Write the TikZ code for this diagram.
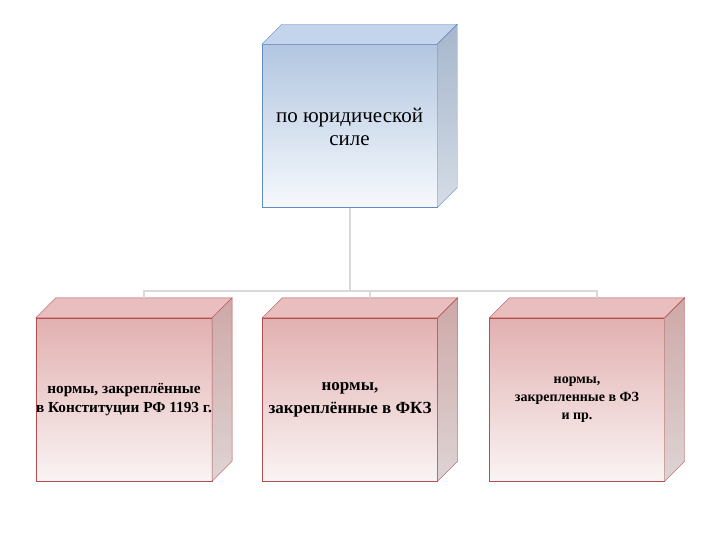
\documentclass[tikz,border=0pt]{standalone}
\usepackage{fontspec}
\setmainfont{Liberation Serif}
\usetikzlibrary{positioning}

\definecolor{blueedge}{RGB}{95,140,198}
\definecolor{bluetop}{RGB}{178,198,224}
\definecolor{bluebot}{RGB}{246,249,253}
\definecolor{bluelid}{RGB}{196,212,234}
\definecolor{blueside}{RGB}{166,182,204}
\definecolor{bluesidebot}{RGB}{212,220,230}
\definecolor{rededge}{RGB}{180,78,78}
\definecolor{redtop}{RGB}{226,176,176}
\definecolor{redbot}{RGB}{250,244,244}
\definecolor{redlid}{RGB}{232,190,190}
\definecolor{redside}{RGB}{206,168,168}
\definecolor{redsidebot}{RGB}{222,212,212}
\definecolor{linkgray}{RGB}{217,217,217}

\tikzset{
  face/.style={draw=#1edge, top color=#1top, bottom color=#1bot,
    minimum width=175pt, minimum height=163pt, inner sep=0pt,
    align=center, text=black},
  link/.style={draw=linkgray, line width=2pt},
}

\begin{document}
\begin{tikzpicture}[x=1pt,y=-1pt]
        \useasboundingbox (0,0) rectangle (720,540);

        % front faces
        \node[face=blue, font=\fontsize{21}{23}\selectfont] (top) at (349.5,126)
            {\\[-6pt]по юридической\\силе};
        \node[face=red, font=\bfseries\fontsize{15.3}{19}\selectfont] (a) at (124,399.5)
            {нормы, закреплённые\\в Конституции РФ 1193 г.};
        \node[face=red, font=\bfseries\fontsize{17}{23}\selectfont] (b) at (350,399.5)
            {нормы,\\закреплённые в ФКЗ};
        \node[face=red, font=\bfseries\fontsize{14}{18}\selectfont] (c) at (577,399.5)
            {нормы,\\закрепленные в ФЗ\\и пр.};

        % lids and sides
        \foreach \n/\c in {top/blue, a/red, b/red, c/red} {
            \draw[draw=\c edge, fill=\c lid] (\n.north west) -- ++(20,-20)
                -- ([shift={(20,-20)}]\n.north east) -- (\n.north east) -- cycle;
            \draw[draw=\c edge, top color=\c side, bottom color=\c sidebot]
                (\n.north east) -- ++(20,-20)
                -- ([shift={(20,-20)}]\n.south east) -- (\n.south east) -- cycle;
            \path (\n.north) ++(20,-20) coordinate (\n-back);
        }

        % connectors
        \draw[link] (top.south) -- ++(0,83) coordinate (fork);
        \draw[link] (a-back) -- (a-back |- fork) -- (c-back |- fork) -- (c-back);
        \draw[link] (b-back) -- (b-back |- fork);
\end{tikzpicture}
\end{document}
